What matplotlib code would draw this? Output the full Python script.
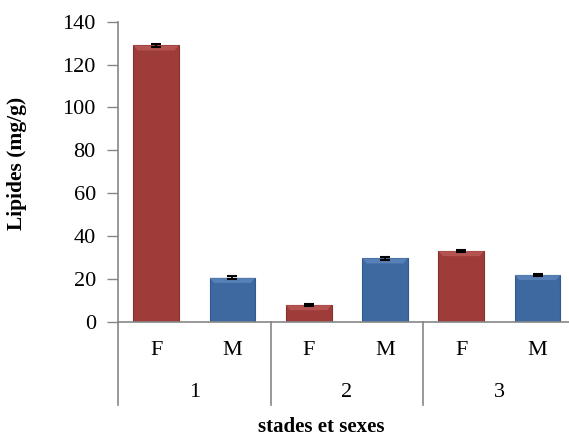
import numpy as np
import matplotlib.pyplot as plt
from matplotlib.patches import Polygon

# data
stades = ['1', '2', '3']
sexes = ['F', 'M']
lipides_F = [129.0, 7.8, 33.0]
lipides_M = [20.5, 29.6, 21.8]
err_F = [0.6, 0.6, 0.5]
err_M = [0.6, 0.6, 0.5]

plt.rcParams['font.family'] = ['Liberation Serif', 'DejaVu Serif']

red, red_edge, red_top = '#9e3c3a', '#86312f', '#c56461'
blue, blue_edge, blue_top = '#3d68a0', '#325a8c', '#6a93c6'

fig = plt.figure(figsize=(5.69, 4.37), dpi=100)
ax = fig.add_axes([118 / 569, 115.3 / 437, 457.7 / 569, 300 / 437])

# interleave F / M per stade
vals, errs, cols = [], [], []
for i in range(len(stades)):
    vals += [lipides_F[i], lipides_M[i]]
    errs += [err_F[i], err_M[i]]
    cols += [(red, red_edge, red_top), (blue, blue_edge, blue_top)]
x = np.arange(len(vals)) + 0.5
w = 0.6

bars = ax.bar(x, vals, width=w, color=[c[0] for c in cols],
              edgecolor=[c[1] for c in cols], linewidth=0.8, zorder=2)
ax.errorbar(x, vals, yerr=errs, fmt='none', ecolor='black',
            elinewidth=1.2, capsize=3.5, capthick=1.5, zorder=4)

# bevel at the top of each bar
for b, c in zip(bars, cols):
    x0, x1, top = b.get_x(), b.get_x() + b.get_width(), b.get_height()
    d = min(2.4, top * 0.35)
    s = 0.06
    ax.add_patch(Polygon([(x0, top), (x1, top), (x1 - s, top - d), (x0 + s, top - d)],
                         closed=True, facecolor=c[2], edgecolor='none', alpha=0.6, zorder=3))

ax.set_xlim(0, len(vals))
ax.set_ylim(0, 140)
ax.set_yticks(np.arange(0, 141, 20))
ax.tick_params(axis='y', direction='out', length=8, width=1, color='#868686',
               labelsize=16, pad=8)
ax.set_xticks([])
for s in ['top', 'right']:
    ax.spines[s].set_visible(False)
for s in ['left', 'bottom']:
    ax.spines[s].set_color('#868686')
    ax.spines[s].set_linewidth(1.2)

# two-level category axis
trans = ax.get_xaxis_transform()
for i, st in enumerate(stades):
    for j, sx in enumerate(sexes):
        ax.text(2 * i + j + 0.5, -0.095, sx, transform=trans, ha='center', va='center',
                fontsize=16)
    ax.text(2 * i + 1, -0.235, st, transform=trans, ha='center', va='center', fontsize=16)
for k in range(len(stades) + 1):
    ax.plot([2 * k, 2 * k], [0, -0.277], transform=trans, color='#868686',
            linewidth=1.2, clip_on=False)

ax.set_ylabel('Lipides (mg/g)', fontsize=15.5, fontweight='bold')
ax.yaxis.set_label_coords(-0.199, 0.527)
fig.text(321 / 569, 1 - 427 / 437, 'stades et sexes', ha='center', va='center',
         fontsize=15, fontweight='bold')

fig.savefig('out.png', dpi=100)
